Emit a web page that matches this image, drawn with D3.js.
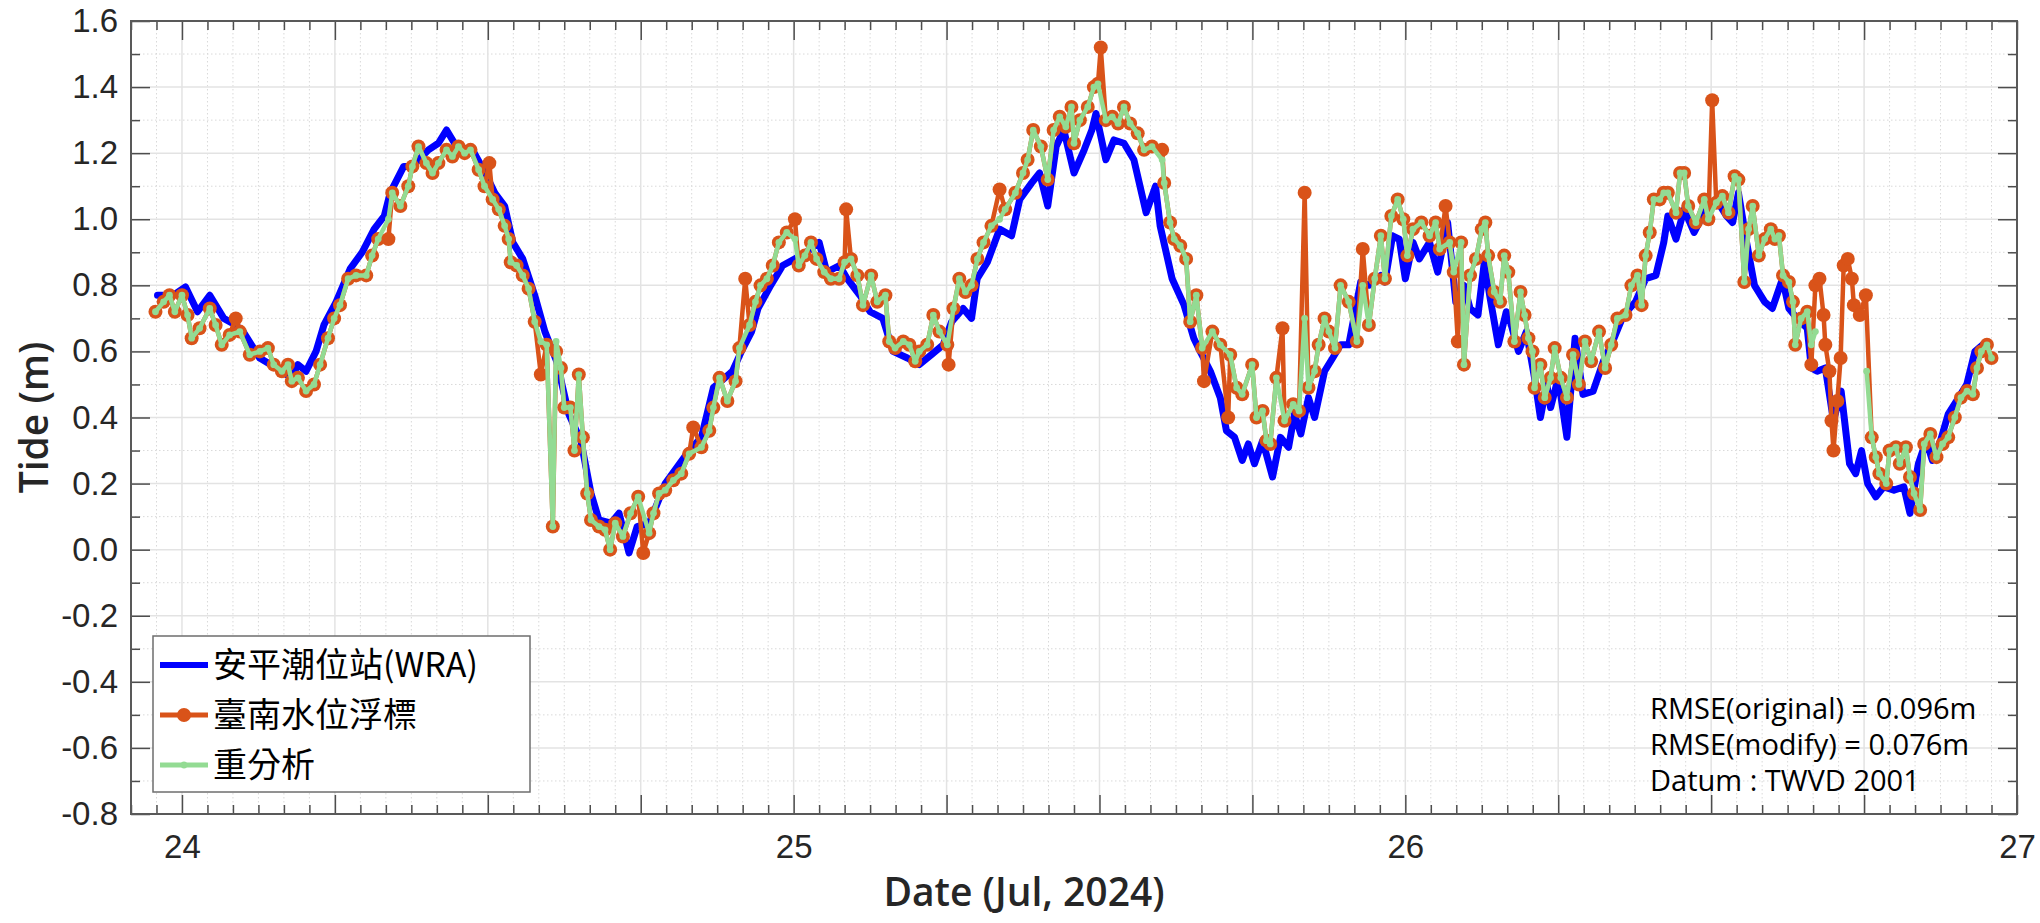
<!DOCTYPE html>
<html><head><meta charset="utf-8">
<script src="https://cdn.jsdelivr.net/npm/d3@7"></script>
<style>body{margin:0;background:#fff}svg{display:block}</style>
</head><body>
<svg id="chart" width="2040" height="923"></svg>
<script>
// ---------- data (hours from Jul 24 00:00, tide in m) ----------
const dayHours = [0, 24, 48, 72];
const dayLabels = ["24", "25", "26", "27"];
const yTickValues = [1.6, 1.4, 1.2, 1.0, 0.8, 0.6, 0.4, 0.2, 0.0, -0.2, -0.4, -0.6, -0.8];
const seriesNames = ["安平潮位站(WRA)", "臺南水位浮標", "重分析"];
const statLines = ["RMSE(original) = 0.096m", "RMSE(modify) = 0.076m", "Datum : TWVD 2001"];
const xTitle = "Date (Jul, 2024)";
const yTitle = "Tide (m)";

const wraData = [[-0.96,0.77],[-0.72,0.77],[-0.33,0.77],[0.14,0.795],[0.61,0.72],[1.09,0.77],[1.64,0.70],[2.1,0.68],[2.4,0.66],[3.05,0.58],[3.7,0.55],[4.3,0.52],[4.55,0.56],[4.87,0.54],[5.26,0.60],[5.57,0.68],[6.05,0.75],[6.6,0.85],[7.07,0.90],[7.54,0.97],[7.94,1.01],[8.17,1.08],[8.7,1.16],[9.04,1.16],[9.67,1.21],[10.06,1.23],[10.38,1.27],[10.77,1.22],[11.4,1.21],[11.9,1.14],[12.27,1.08],[12.66,1.04],[12.98,0.93],[13.37,0.88],[13.84,0.77],[14.24,0.66],[14.7,0.57],[15.18,0.41],[15.65,0.33],[16.05,0.17],[16.36,0.09],[16.83,0.08],[17.15,0.11],[17.54,-0.01],[17.86,0.07],[18.33,0.08],[18.65,0.14],[18.96,0.20],[19.43,0.25],[19.9,0.30],[20.38,0.34],[20.85,0.49],[21.3,0.52],[21.6,0.54],[21.95,0.60],[22.35,0.66],[22.6,0.73],[23.1,0.80],[23.57,0.86],[24.05,0.88],[24.5,0.90],[25.0,0.93],[25.3,0.84],[25.8,0.86],[26.1,0.82],[26.6,0.77],[27.0,0.72],[27.5,0.70],[27.9,0.60],[28.46,0.58],[28.93,0.56],[29.4,0.59],[29.87,0.62],[30.2,0.69],[30.65,0.73],[30.98,0.70],[31.2,0.82],[31.6,0.87],[32.08,0.97],[32.55,0.95],[32.87,1.06],[33.34,1.11],[33.65,1.14],[33.97,1.04],[34.3,1.22],[34.6,1.27],[35.0,1.14],[35.4,1.21],[35.7,1.27],[35.86,1.32],[36.25,1.18],[36.57,1.24],[36.96,1.23],[37.35,1.18],[37.83,1.02],[38.2,1.10],[38.38,0.98],[38.85,0.82],[39.32,0.74],[39.7,0.64],[39.95,0.60],[40.35,0.54],[40.74,0.46],[40.98,0.36],[41.3,0.34],[41.6,0.27],[41.84,0.32],[42.08,0.26],[42.4,0.33],[42.79,0.22],[43.1,0.34],[43.42,0.31],[43.65,0.41],[43.9,0.35],[44.2,0.46],[44.44,0.40],[44.83,0.54],[45.15,0.58],[45.46,0.62],[45.78,0.62],[46.25,0.81],[46.57,0.80],[47.04,0.83],[47.2,0.81],[47.5,0.95],[47.76,0.94],[48.0,0.82],[48.3,0.93],[48.55,0.88],[48.95,0.93],[49.27,0.84],[49.66,0.99],[49.98,0.75],[50.3,0.80],[50.54,0.73],[50.85,0.71],[51.1,0.87],[51.33,0.76],[51.65,0.62],[51.96,0.72],[52.12,0.69],[52.44,0.60],[52.75,0.66],[53.07,0.52],[53.3,0.40],[53.55,0.50],[53.7,0.43],[54.0,0.52],[54.34,0.34],[54.66,0.64],[54.97,0.47],[55.37,0.48],[55.77,0.57],[56.08,0.62],[56.56,0.71],[57.03,0.75],[57.43,0.82],[57.83,0.83],[58.14,0.93],[58.3,1.01],[58.62,0.94],[58.94,1.03],[59.33,0.96],[59.73,1.02],[60.2,1.06],[60.6,1.01],[60.84,0.99],[61.07,1.08],[61.39,0.93],[61.7,0.80],[62.1,0.75],[62.4,0.73],[62.8,0.82],[63.05,0.73],[63.37,0.70],[63.77,0.67],[63.93,0.55],[64.16,0.54],[64.48,0.55],[64.8,0.39],[65.1,0.48],[65.43,0.26],[65.67,0.23],[65.9,0.30],[66.14,0.20],[66.46,0.16],[66.77,0.19],[67.17,0.18],[67.56,0.19],[67.8,0.11],[68.13,0.26],[68.44,0.33],[68.68,0.27],[69.0,0.33],[69.3,0.41],[69.63,0.45],[70.03,0.50],[70.35,0.60],[70.66,0.62],[70.82,0.60]];

const buoyData = [[-1.04,0.72],[-0.72,0.75],[-0.49,0.77],[-0.28,0.72],[0.0,0.77],[0.22,0.71],[0.38,0.64],[0.69,0.67],[1.09,0.73],[1.32,0.68],[1.56,0.62],[1.87,0.65],[2.11,0.70],[2.27,0.66],[2.66,0.59],[3.06,0.60],[3.37,0.61],[3.6,0.56],[3.92,0.54],[4.16,0.56],[4.31,0.51],[4.55,0.52],[4.87,0.48],[5.18,0.50],[5.42,0.56],[5.73,0.64],[5.97,0.70],[6.2,0.74],[6.52,0.82],[6.83,0.83],[7.23,0.83],[7.46,0.89],[7.7,0.94],[8.1,0.94],[8.25,1.08],[8.57,1.04],[8.88,1.10],[9.04,1.16],[9.28,1.22],[9.59,1.17],[9.83,1.14],[10.06,1.17],[10.38,1.21],[10.61,1.19],[10.85,1.22],[11.09,1.20],[11.32,1.21],[11.64,1.15],[11.87,1.10],[12.06,1.17],[12.19,1.06],[12.43,1.03],[12.66,0.98],[12.82,0.94],[12.9,0.87],[13.13,0.86],[13.37,0.83],[13.6,0.79],[13.84,0.69],[14.08,0.53],[14.31,0.62],[14.55,0.07],[14.68,0.60],[14.87,0.55],[15.0,0.43],[15.24,0.43],[15.4,0.30],[15.57,0.53],[15.73,0.34],[15.9,0.17],[16.05,0.09],[16.36,0.07],[16.6,0.06],[16.8,0.00],[17.0,0.08],[17.3,0.04],[17.6,0.11],[17.9,0.16],[18.1,-0.01],[18.33,0.05],[18.5,0.11],[18.72,0.17],[18.96,0.18],[19.28,0.21],[19.59,0.23],[19.9,0.29],[20.06,0.37],[20.38,0.31],[20.69,0.36],[20.85,0.43],[21.09,0.52],[21.4,0.45],[21.72,0.51],[21.87,0.61],[22.1,0.82],[22.27,0.68],[22.5,0.75],[22.7,0.80],[22.95,0.82],[23.18,0.86],[23.42,0.93],[23.73,0.96],[24.05,1.00],[24.2,0.86],[24.44,0.89],[24.68,0.93],[24.9,0.88],[25.2,0.84],[25.46,0.82],[25.78,0.82],[26.0,0.87],[26.06,1.03],[26.25,0.88],[26.5,0.83],[26.72,0.74],[27.04,0.83],[27.28,0.75],[27.6,0.77],[27.75,0.63],[27.98,0.61],[28.3,0.63],[28.54,0.62],[28.77,0.57],[28.93,0.60],[29.24,0.62],[29.48,0.71],[29.72,0.66],[30.03,0.62],[30.08,0.56],[30.27,0.73],[30.5,0.82],[30.74,0.78],[30.98,0.80],[31.21,0.88],[31.45,0.93],[31.76,0.98],[32.08,1.09],[32.3,1.03],[32.7,1.08],[33.0,1.14],[33.18,1.18],[33.4,1.27],[33.7,1.22],[33.97,1.12],[34.2,1.27],[34.44,1.31],[34.68,1.28],[34.9,1.34],[35.0,1.23],[35.23,1.30],[35.54,1.34],[35.78,1.40],[35.94,1.41],[36.05,1.52],[36.25,1.30],[36.5,1.31],[36.73,1.29],[36.96,1.34],[37.2,1.29],[37.5,1.26],[37.75,1.21],[38.06,1.22],[38.46,1.21],[38.54,1.11],[38.77,0.99],[38.93,0.94],[39.17,0.92],[39.4,0.88],[39.56,0.69],[39.8,0.77],[40.03,0.61],[40.1,0.51],[40.43,0.66],[40.74,0.62],[41.05,0.40],[41.13,0.59],[41.38,0.49],[41.6,0.47],[41.99,0.56],[42.16,0.40],[42.4,0.42],[42.55,0.33],[42.7,0.32],[42.94,0.52],[43.18,0.67],[43.26,0.39],[43.6,0.44],[43.83,0.42],[44.05,1.08],[44.2,0.49],[44.44,0.54],[44.6,0.62],[44.83,0.70],[45.0,0.66],[45.24,0.61],[45.46,0.80],[45.78,0.75],[46.1,0.63],[46.33,0.91],[46.57,0.68],[46.8,0.82],[47.04,0.95],[47.2,0.82],[47.45,1.01],[47.7,1.06],[47.92,1.00],[48.08,0.89],[48.3,0.97],[48.63,0.99],[48.95,0.95],[49.19,0.99],[49.35,0.91],[49.58,1.04],[49.74,0.93],[49.9,0.84],[50.06,0.63],[50.19,0.93],[50.3,0.56],[50.54,0.83],[50.77,0.88],[51.0,0.97],[51.14,0.99],[51.25,0.89],[51.49,0.78],[51.72,0.75],[51.88,0.89],[52.04,0.84],[52.28,0.63],[52.52,0.78],[52.68,0.71],[52.83,0.64],[52.99,0.60],[53.07,0.49],[53.3,0.56],[53.47,0.46],[53.7,0.52],[53.86,0.61],[54.1,0.52],[54.34,0.46],[54.58,0.59],[54.81,0.50],[55.05,0.63],[55.29,0.57],[55.6,0.66],[55.84,0.55],[56.08,0.62],[56.32,0.70],[56.64,0.71],[56.87,0.80],[57.11,0.83],[57.27,0.74],[57.43,0.89],[57.59,0.96],[57.75,1.06],[57.98,1.06],[58.14,1.08],[58.3,1.08],[58.62,1.02],[58.78,1.14],[58.94,1.14],[59.1,1.04],[59.4,0.99],[59.73,1.06],[59.89,1.00],[60.04,1.36],[60.2,1.05],[60.44,1.07],[60.68,1.02],[60.92,1.13],[61.07,1.12],[61.3,0.81],[61.47,0.97],[61.63,1.04],[61.87,0.89],[62.1,0.94],[62.34,0.97],[62.5,0.94],[62.66,0.95],[62.82,0.83],[63.05,0.81],[63.21,0.75],[63.3,0.62],[63.53,0.70],[63.77,0.72],[63.93,0.56],[64.09,0.80],[64.25,0.82],[64.41,0.71],[64.48,0.62],[64.64,0.54],[64.72,0.39],[64.8,0.30],[64.95,0.45],[65.08,0.58],[65.2,0.86],[65.36,0.88],[65.52,0.82],[65.6,0.74],[65.83,0.71],[66.07,0.77],[66.3,0.34],[66.46,0.28],[66.6,0.23],[66.87,0.20],[67.0,0.30],[67.25,0.31],[67.4,0.26],[67.64,0.31],[67.8,0.22],[67.96,0.17],[68.2,0.12],[68.36,0.32],[68.6,0.35],[68.84,0.28],[69.08,0.32],[69.3,0.34],[69.56,0.40],[69.8,0.46],[70.04,0.48],[70.27,0.47],[70.43,0.55],[70.6,0.60],[70.82,0.62],[71.0,0.58]];

const reanData = [[-1.04,0.72],[-0.72,0.75],[-0.49,0.77],[-0.28,0.72],[0.0,0.77],[0.22,0.71],[0.38,0.64],[0.69,0.67],[1.09,0.73],[1.32,0.68],[1.56,0.62],[1.87,0.65],[2.27,0.66],[2.66,0.59],[3.06,0.60],[3.37,0.61],[3.6,0.56],[3.92,0.54],[4.16,0.56],[4.31,0.51],[4.55,0.52],[4.87,0.48],[5.18,0.50],[5.42,0.56],[5.73,0.64],[5.97,0.70],[6.2,0.74],[6.52,0.82],[6.83,0.83],[7.23,0.83],[7.46,0.89],[7.7,0.94],[8.1,1.00],[8.25,1.08],[8.57,1.04],[8.88,1.10],[9.04,1.16],[9.28,1.22],[9.59,1.17],[9.83,1.14],[10.06,1.17],[10.38,1.21],[10.61,1.19],[10.85,1.22],[11.09,1.20],[11.32,1.21],[11.64,1.15],[11.87,1.10],[12.19,1.06],[12.43,1.03],[12.66,0.98],[12.82,0.94],[12.9,0.87],[13.13,0.86],[13.37,0.83],[13.6,0.79],[13.84,0.69],[14.08,0.63],[14.31,0.62],[14.55,0.07],[14.68,0.63],[14.87,0.55],[15.0,0.43],[15.24,0.43],[15.4,0.30],[15.57,0.53],[15.73,0.34],[15.9,0.17],[16.05,0.09],[16.36,0.07],[16.6,0.06],[16.8,0.00],[17.0,0.08],[17.3,0.04],[17.6,0.11],[17.9,0.16],[18.33,0.05],[18.5,0.11],[18.72,0.17],[18.96,0.18],[19.28,0.21],[19.59,0.23],[19.9,0.29],[20.38,0.31],[20.69,0.36],[20.85,0.43],[21.09,0.52],[21.4,0.45],[21.72,0.51],[21.87,0.61],[22.27,0.68],[22.5,0.75],[22.7,0.80],[22.95,0.82],[23.18,0.86],[23.42,0.93],[23.73,0.96],[24.05,0.94],[24.2,0.86],[24.44,0.89],[24.68,0.93],[24.9,0.88],[25.2,0.84],[25.46,0.82],[25.78,0.82],[26.0,0.87],[26.25,0.88],[26.5,0.83],[26.72,0.74],[27.04,0.83],[27.28,0.75],[27.6,0.77],[27.75,0.63],[27.98,0.61],[28.3,0.63],[28.54,0.62],[28.77,0.57],[28.93,0.60],[29.24,0.62],[29.48,0.71],[29.72,0.66],[30.03,0.62],[30.27,0.73],[30.5,0.82],[30.74,0.78],[30.98,0.80],[31.21,0.88],[31.45,0.93],[31.76,0.98],[32.08,1.00],[32.3,1.03],[32.7,1.08],[33.0,1.14],[33.18,1.18],[33.4,1.27],[33.7,1.22],[33.97,1.12],[34.2,1.27],[34.44,1.31],[34.68,1.28],[34.9,1.34],[35.0,1.23],[35.23,1.30],[35.54,1.34],[35.78,1.40],[35.94,1.41],[36.25,1.30],[36.5,1.31],[36.73,1.29],[36.96,1.34],[37.2,1.29],[37.5,1.26],[37.75,1.21],[38.06,1.22],[38.46,1.18],[38.54,1.11],[38.77,0.99],[38.93,0.94],[39.17,0.92],[39.4,0.88],[39.56,0.69],[39.8,0.77],[40.03,0.61],[40.43,0.66],[40.74,0.62],[41.13,0.59],[41.38,0.49],[41.6,0.47],[41.99,0.56],[42.16,0.40],[42.4,0.42],[42.55,0.33],[42.7,0.32],[42.94,0.52],[43.26,0.39],[43.6,0.44],[43.83,0.42],[44.05,0.70],[44.2,0.49],[44.44,0.54],[44.6,0.62],[44.83,0.70],[45.0,0.66],[45.24,0.61],[45.46,0.80],[45.78,0.75],[46.1,0.63],[46.33,0.80],[46.57,0.68],[46.8,0.82],[47.04,0.95],[47.2,0.82],[47.45,1.01],[47.7,1.06],[47.92,1.00],[48.08,0.89],[48.3,0.97],[48.63,0.99],[48.95,0.95],[49.19,0.99],[49.35,0.91],[49.74,0.93],[49.9,0.84],[50.19,0.93],[50.3,0.56],[50.54,0.83],[50.77,0.88],[51.0,0.97],[51.14,0.99],[51.25,0.89],[51.49,0.78],[51.72,0.75],[51.88,0.89],[52.04,0.84],[52.28,0.63],[52.52,0.78],[52.68,0.71],[52.83,0.64],[52.99,0.60],[53.07,0.49],[53.3,0.56],[53.47,0.46],[53.7,0.52],[53.86,0.61],[54.1,0.52],[54.34,0.46],[54.58,0.59],[54.81,0.50],[55.05,0.63],[55.29,0.57],[55.6,0.66],[55.84,0.55],[56.08,0.62],[56.32,0.70],[56.64,0.71],[56.87,0.80],[57.11,0.83],[57.27,0.74],[57.43,0.89],[57.59,0.96],[57.75,1.06],[57.98,1.06],[58.14,1.08],[58.3,1.08],[58.62,1.02],[58.78,1.14],[58.94,1.14],[59.1,1.04],[59.4,0.99],[59.73,1.06],[59.89,1.00],[60.2,1.05],[60.44,1.07],[60.68,1.02],[60.92,1.13],[61.07,1.12],[61.3,0.81],[61.47,0.97],[61.63,1.04],[61.87,0.89],[62.1,0.94],[62.34,0.97],[62.5,0.94],[62.66,0.95],[62.82,0.83],[63.05,0.81],[63.21,0.75],[63.3,0.62],[63.53,0.70],[63.77,0.72],[63.93,0.62],[64.09,0.66],[64.2,null],[66.1,0.54],[66.3,0.34],[66.46,0.28],[66.6,0.23],[66.87,0.20],[67.0,0.30],[67.25,0.31],[67.4,0.26],[67.64,0.31],[67.8,0.22],[67.96,0.17],[68.2,0.12],[68.36,0.32],[68.6,0.35],[68.84,0.28],[69.08,0.32],[69.3,0.34],[69.56,0.40],[69.8,0.46],[70.04,0.48],[70.27,0.47],[70.43,0.55],[70.6,0.60],[70.82,0.62],[71.0,0.58]];

// ---------- layout ----------
const X0 = 131, X1 = 2017, Y0 = 21, Y1 = 814;
const C_BLUE = "#0000FF", C_ORANGE = "#D95319", C_GREEN = "#93DB93";
const TICK_FONT = "'Liberation Sans', Arial, sans-serif";
const TITLE_FONT = "'Open Sans', 'Noto Sans', sans-serif";

const svg = d3.select("#chart");
const x = d3.scaleLinear().domain([-2, 72]).range([X0, X1]);
const y = d3.scaleLinear().domain([-0.8, 1.6]).range([Y1, Y0]);

const hourTicks = d3.range(-2, 73).filter(h => h % 6 !== 0);
const sixTicks = d3.range(0, 73, 6);
const minorY = d3.range(-7, 16, 2).map(k => k / 10);
const majorY = yTickValues;

// grid
const grid = svg.append("g");
grid.selectAll(".vmin").data(hourTicks).join("line")
  .attr("x1", d => x(d)).attr("x2", d => x(d)).attr("y1", Y0).attr("y2", Y1)
  .attr("stroke", "#d9d9d9").attr("stroke-width", 1).attr("stroke-dasharray", "1.5,2.5");
grid.selectAll(".hmin").data(minorY).join("line")
  .attr("x1", X0).attr("x2", X1).attr("y1", d => y(d)).attr("y2", d => y(d))
  .attr("stroke", "#d9d9d9").attr("stroke-width", 1).attr("stroke-dasharray", "1.5,2.5");
grid.selectAll(".vmaj").data(sixTicks).join("line")
  .attr("x1", d => x(d)).attr("x2", d => x(d)).attr("y1", Y0).attr("y2", Y1)
  .attr("stroke", "#e3e3e3").attr("stroke-width", 1.5);
grid.selectAll(".hmaj").data(majorY).join("line")
  .attr("x1", X0).attr("x2", X1).attr("y1", d => y(d)).attr("y2", d => y(d))
  .attr("stroke", "#e3e3e3").attr("stroke-width", 1.5);

// series
const line = d3.line().defined(d => d[1] !== null).x(d => x(d[0])).y(d => y(d[1]));
const plot = svg.append("g");
plot.append("path").datum(wraData).attr("d", line).attr("fill", "none")
  .attr("stroke", C_BLUE).attr("stroke-width", 7).attr("stroke-linejoin", "round").attr("stroke-linecap", "round");
plot.append("path").datum(buoyData).attr("d", line).attr("fill", "none")
  .attr("stroke", C_ORANGE).attr("stroke-width", 4.5).attr("stroke-linejoin", "round");
plot.selectAll(".bm").data(buoyData).join("circle")
  .attr("cx", d => x(d[0])).attr("cy", d => y(d[1])).attr("r", 7).attr("fill", C_ORANGE);
plot.append("path").datum(reanData).attr("d", line).attr("fill", "none")
  .attr("stroke", C_GREEN).attr("stroke-width", 4.5).attr("stroke-linejoin", "round");
plot.selectAll(".gm").data(reanData.filter(d => d[1] !== null)).join("circle")
  .attr("cx", d => x(d[0])).attr("cy", d => y(d[1])).attr("r", 3.4).attr("fill", C_GREEN);

// axes
function styleAxis(g) {
  g.select(".domain").remove();
  g.selectAll(".tick line").attr("stroke", "#4d4d4d").attr("stroke-width", 1.5);
  g.selectAll("text").attr("fill", "#262626").attr("font-family", TICK_FONT).attr("font-size", 33);
}
svg.append("g").attr("transform", `translate(0,${Y1})`)
  .call(d3.axisBottom(x).tickValues(hourTicks).tickSize(-9).tickFormat("")).call(styleAxis);
svg.append("g").attr("transform", `translate(0,${Y1})`)
  .call(d3.axisBottom(x).tickValues(sixTicks).tickSize(-19).tickFormat("")).call(styleAxis);
svg.append("g").attr("transform", `translate(0,${Y1})`)
  .call(d3.axisBottom(x).tickValues(dayHours).tickSize(0).tickPadding(21).tickFormat((d, i) => dayLabels[i])).call(styleAxis);
svg.append("g").attr("transform", `translate(0,${Y0})`)
  .call(d3.axisTop(x).tickValues(hourTicks).tickSize(-9).tickFormat("")).call(styleAxis);
svg.append("g").attr("transform", `translate(0,${Y0})`)
  .call(d3.axisTop(x).tickValues(sixTicks).tickSize(-19).tickFormat("")).call(styleAxis);
svg.append("g").attr("transform", `translate(${X0},0)`)
  .call(d3.axisLeft(y).tickValues(minorY).tickSize(-9).tickFormat("")).call(styleAxis);
svg.append("g").attr("transform", `translate(${X0},0)`)
  .call(d3.axisLeft(y).tickValues(majorY).tickSize(-19).tickPadding(13).tickFormat(d => d.toFixed(1))).call(styleAxis);
svg.append("g").attr("transform", `translate(${X1},0)`)
  .call(d3.axisRight(y).tickValues(minorY).tickSize(-9).tickFormat("")).call(styleAxis);
svg.append("g").attr("transform", `translate(${X1},0)`)
  .call(d3.axisRight(y).tickValues(majorY).tickSize(-19).tickFormat("")).call(styleAxis);

svg.append("rect").attr("x", X0).attr("y", Y0).attr("width", X1 - X0).attr("height", Y1 - Y0)
  .attr("fill", "none").attr("stroke", "#595959").attr("stroke-width", 2);

// titles
svg.append("text").attr("x", 1024).attr("y", 906).attr("text-anchor", "middle")
  .attr("font-family", TITLE_FONT).attr("font-weight", 600).attr("font-size", 39).attr("fill", "#262626").text(xTitle);
svg.append("text").attr("transform", `translate(48,${(Y0 + Y1) / 2}) rotate(-90)`).attr("text-anchor", "middle")
  .attr("font-family", TITLE_FONT).attr("font-weight", 600).attr("font-size", 39).attr("fill", "#262626").text(yTitle);

// stats text
svg.append("g").selectAll("text").data(statLines).join("text")
  .attr("x", 1650).attr("y", (d, i) => 719 + i * 36)
  .attr("font-family", TITLE_FONT).attr("font-size", 29).attr("fill", "#000").text(d => d);

// legend
const lg = svg.append("g");
lg.append("rect").attr("x", 153).attr("y", 636).attr("width", 377).attr("height", 156)
  .attr("fill", "#fff").attr("stroke", "#6e6e6e").attr("stroke-width", 1.5);
const legendRows = [
  {name: seriesNames[0], color: C_BLUE, w: 6, marker: 0},
  {name: seriesNames[1], color: C_ORANGE, w: 5, marker: 7},
  {name: seriesNames[2], color: C_GREEN, w: 5, marker: 3.4}
];
legendRows.forEach((r, i) => {
  const cy = 665 + i * 50;
  lg.append("line").attr("x1", 160).attr("x2", 208).attr("y1", cy).attr("y2", cy)
    .attr("stroke", r.color).attr("stroke-width", r.w);
  if (r.marker) lg.append("circle").attr("cx", 184).attr("cy", cy).attr("r", r.marker).attr("fill", r.color);
  lg.append("text").attr("x", 213).attr("y", cy + 12)
    .attr("font-family", "'Noto Sans CJK TC', 'Noto Sans CJK SC', sans-serif").attr("font-size", 34)
    .attr("fill", "#000").text(r.name);
});
</script>
</body></html>
